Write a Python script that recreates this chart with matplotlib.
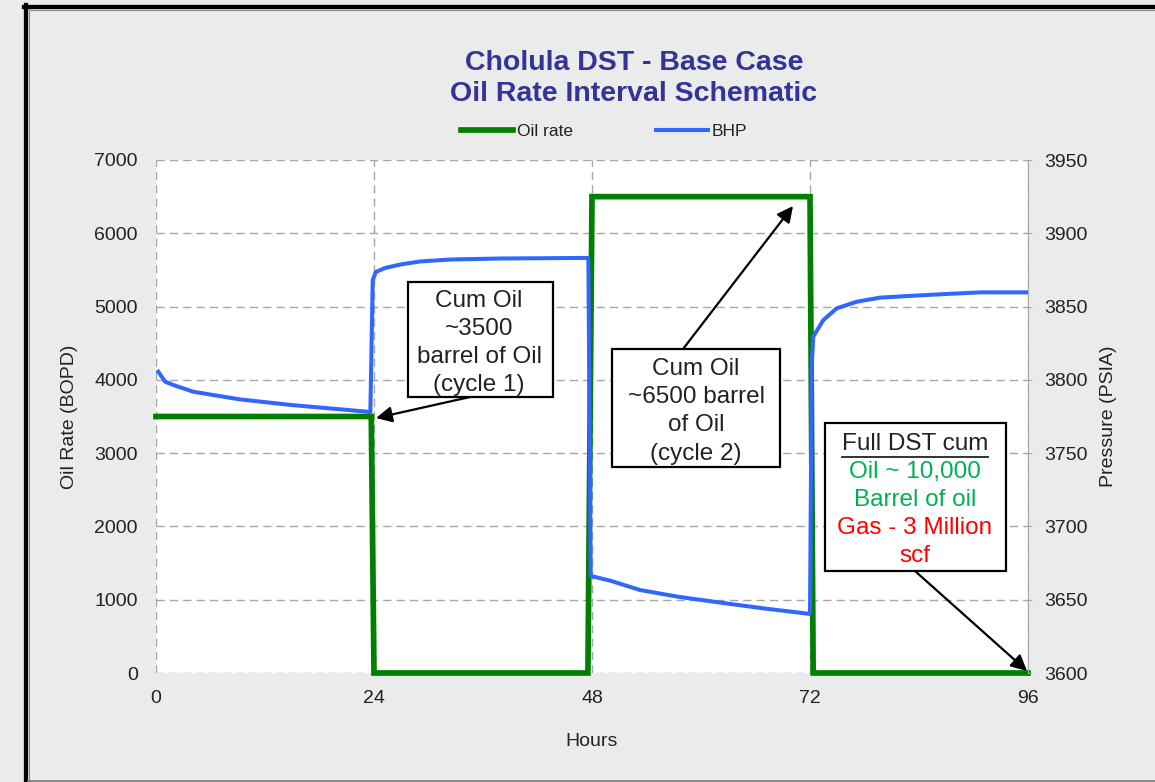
import matplotlib.pyplot as plt
from matplotlib.lines import Line2D
from matplotlib.patches import Rectangle

plt.rcParams['font.family'] = ['Liberation Sans', 'DejaVu Sans']

# oil rate schedule (hours, BOPD)
rate_hours = [0, 23.7, 24.0, 47.55, 48.0, 72.0, 72.35, 96]
oil_rate = [3500, 3500, 0, 0, 6500, 6500, 0, 0]

# bottom hole pressure (hours, psia)
bhp_hours = [0.25, 1.0, 1.9, 4.1, 9.2, 14.8, 20.3, 23.2, 23.6,
             23.86, 24.2, 25.2, 26.9, 29.1, 32.4, 37.9, 47.6,
             47.86, 50.0, 53.3, 57.5, 62.4, 67.0, 72.0,
             72.19, 72.36, 73.47, 74.94, 77.14, 79.71, 83.37, 87.05, 90.72, 96]
bhp = [3805.6, 3798.8, 3796.5, 3791.9, 3786.7, 3782.9, 3779.9, 3778.3, 3778.0,
       3868.1, 3873.6, 3876.3, 3878.7, 3880.8, 3882.1, 3882.8, 3883.2,
       3666.2, 3663.0, 3656.6, 3652.0, 3647.8, 3644.0, 3640.3,
       3809.0, 3829.5, 3840.8, 3848.8, 3853.3, 3856.1, 3857.4, 3858.6, 3859.7, 3859.7]

x_ticks = [0, 24, 48, 72, 96]
rate_ticks = [0, 1000, 2000, 3000, 4000, 5000, 6000, 7000]
psi_ticks = [3600, 3650, 3700, 3750, 3800, 3850, 3900, 3950]

note_cycle1 = "Cum Oil\n~3500\nbarrel of Oil\n(cycle 1)"
note_cycle2 = "Cum Oil\n~6500 barrel\nof Oil\n(cycle 2)"
summary_lines = ["Full DST cum", "Oil ~ 10,000", "Barrel of oil", "Gas - 3 Million", "scf"]
summary_colors = ['#222222', '#00b050', '#00b050', '#ff0000', '#ff0000']

bg = '#ebebeb'
grid_col = '#a6a6a6'
txt_col = '#222222'

fig = plt.figure(figsize=(11.55, 7.82), dpi=100, facecolor=bg)
ax = fig.add_axes([156/1155, 1-673/782, 872/1155, 513/782])
ax2 = ax.twinx()

ax.plot(rate_hours, oil_rate, color='#008000', lw=4.1, label='Oil rate',
        clip_on=False, solid_joinstyle='miter', zorder=3)
ax2.plot(bhp_hours, bhp, color='#3366ff', lw=2.9, label='BHP', zorder=3)

ax.set_xlim(0, 96)
ax.set_ylim(0, 7000)
ax2.set_ylim(3600, 3950)
ax.set_xticks(x_ticks)
ax.set_yticks(rate_ticks)
ax2.set_yticks(psi_ticks)

ax.grid(True, color=grid_col, linestyle=(0, (6, 3.6)), lw=1)
for s in ['top', 'left', 'bottom', 'right']:
    ax.spines[s].set_visible(False)
    ax2.spines[s].set_visible(False)
ax2.spines['right'].set_visible(True)
ax2.spines['right'].set_color(grid_col)

ax.tick_params(axis='both', length=0, labelsize=14, labelcolor=txt_col)
ax.tick_params(axis='y', pad=13)
ax.tick_params(axis='x', pad=12)
ax2.tick_params(axis='y', length=3, color=grid_col, pad=9, labelsize=14,
                labelcolor=txt_col)

ax.set_xlabel('Hours', fontsize=14, color=txt_col)
ax.set_ylabel('Oil Rate (BOPD)', fontsize=14, color=txt_col)
ax2.set_ylabel('Pressure (PSIA)', fontsize=14, color=txt_col)
ax.xaxis.set_label_coords(0.5, (673-733)/513)
ax.yaxis.set_label_coords((78-156)/872, 0.5)
ax2.yaxis.set_label_coords((1100-156)/872, 0.5)

# title
fig.text(634/1155, 1-70/782, 'Cholula DST - Base Case', ha='center', va='baseline',
         fontsize=20.5, fontweight='bold', color='#333399')
fig.text(634/1155, 1-101/782, 'Oil Rate Interval Schematic', ha='center', va='baseline',
         fontsize=20.5, fontweight='bold', color='#333399')

fig.legend(loc='center', bbox_to_anchor=(604/1155, 1-131/782), ncol=2, frameon=False,
           fontsize=12.5, handlelength=3.0, handletextpad=0.2, columnspacing=4.8,
           labelcolor=txt_col)

# annotation boxes
box_kw = dict(fc='white', ec='black', lw=1.6, zorder=5)
ax.add_patch(Rectangle((27.74, 3766), 43.71-27.74, 5335-3766, **box_kw))
ax.add_patch(Rectangle((50.2, 2811), 68.7-50.2, 4421-2811, **box_kw))
ax.add_patch(Rectangle((73.65, 1392), 93.58-73.65, 3411-1392, **box_kw))

tkw = dict(ha='center', va='center', fontsize=17.5, linespacing=1.36, zorder=6)
ax.text(35.56, 4500, note_cycle1, color=txt_col, **tkw)
ax.text(59.45, 3570, note_cycle2, color=txt_col, **tkw)

# summary box, one text per line so each can take its own colour
line_rates = [3130, 2745, 2360, 1975, 1590]
texts = []
for line, col, r in zip(summary_lines, summary_colors, line_rates):
    texts.append(ax.text(83.56, r, line, color=col, **tkw))

arrow_kw = dict(arrowstyle='-|>', color='black', lw=1.6, mutation_scale=24,
                shrinkA=0, shrinkB=0)
ax.annotate('', xy=(24.22, 3479), xytext=(34.57, 3766), arrowprops=arrow_kw, zorder=6)
ax.annotate('', xy=(70.13, 6372), xytext=(58.02, 4421), arrowprops=arrow_kw, zorder=6)
ax.annotate('', xy=(95.9, 27), xytext=(83.56, 1392), arrowprops=arrow_kw,
            annotation_clip=False, zorder=6)

# underline for the box heading
fig.canvas.draw()
hb = texts[0].get_window_extent()
uy = hb.y0 - 2
inv = fig.transFigure.inverted()
p0 = inv.transform((hb.x0, uy))
p1 = inv.transform((hb.x1, uy))
fig.add_artist(Line2D([p0[0], p1[0]], [p0[1], p1[1]], color=txt_col, lw=1.3, zorder=7))

# outer frame
fig.add_artist(Line2D([26/1155, 26/1155], [0, 1-5/782], color='black', lw=3.1))
fig.add_artist(Line2D([24/1155, 1], [1-7.2/782, 1-7.2/782], color='black', lw=3.1))
fig.add_artist(Line2D([28.8/1155, 28.8/1155], [0, 1-9.5/782], color='#8a8a8a', lw=0.8))
fig.add_artist(Line2D([28.8/1155, 1], [1-9.7/782, 1-9.7/782], color='#8a8a8a', lw=0.8))
fig.add_artist(Line2D([28/1155, 1], [0.6/782, 0.6/782], color='#7a7a7a', lw=1.2))

plt.savefig('out.png', dpi=100, facecolor=bg)
plt.close()
